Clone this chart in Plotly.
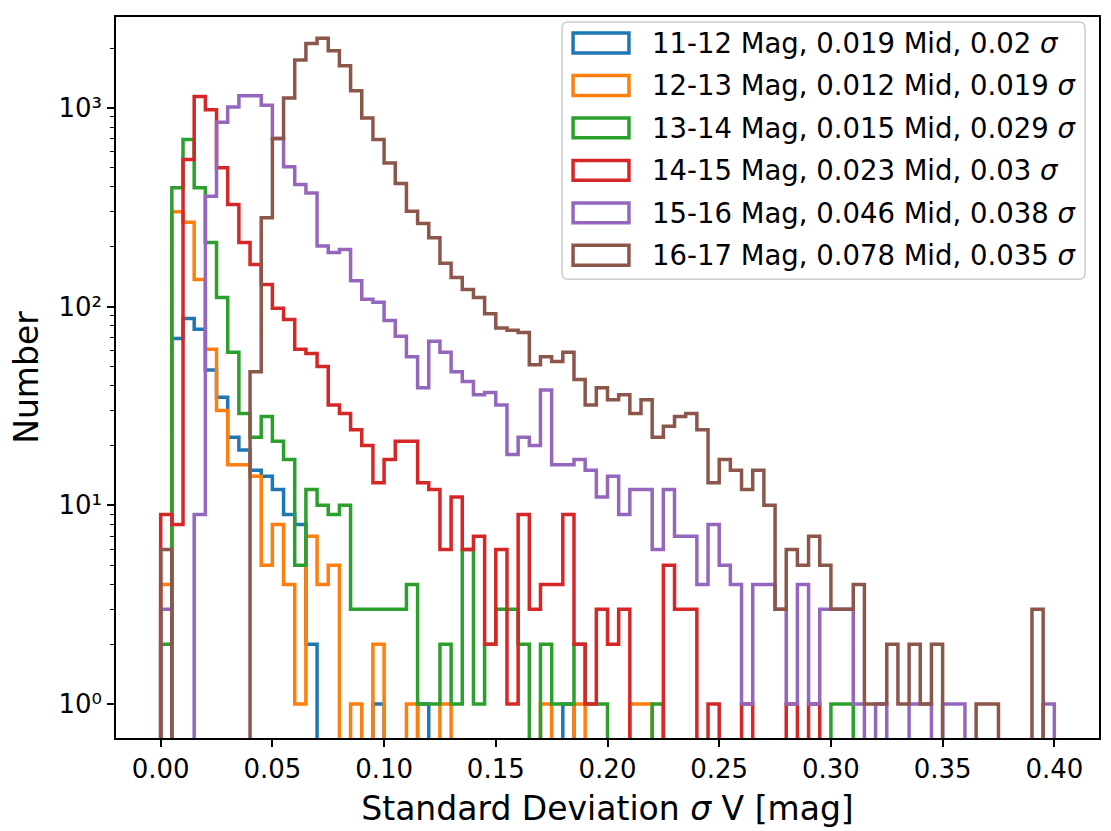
import numpy as np
import plotly.graph_objects as go

# ---------------- data (counts per bin, 80 bins of 0.005 mag from 0 to 0.4) ----------------
bin_edges = np.linspace(0.0, 0.4, 81)

labels = [
    "11-12 Mag, 0.019 Mid, 0.02 <i>σ</i>",
    "12-13 Mag, 0.012 Mid, 0.019 <i>σ</i>",
    "13-14 Mag, 0.015 Mid, 0.029 <i>σ</i>",
    "14-15 Mag, 0.023 Mid, 0.03 <i>σ</i>",
    "15-16 Mag, 0.046 Mid, 0.038 <i>σ</i>",
    "16-17 Mag, 0.078 Mid, 0.035 <i>σ</i>",
]

y_tick_values = [1, 10, 100, 1000]
y_tick_labels = ["10⁰", "10¹", "10²", "10³"]
x_tick_values = [0.0, 0.05, 0.10, 0.15, 0.20, 0.25, 0.30, 0.35, 0.40]
x_tick_labels = ["0.00", "0.05", "0.10", "0.15", "0.20", "0.25", "0.30", "0.35", "0.40"]

mag_11_12 = [0, 69, 87, 77, 48, 35, 22, 19, 15, 14,
             12, 9, 8, 2, 0, 0, 0, 0, 0, 1,
             0, 0, 0, 1, 0, 0, 0, 0, 0, 0,
             0, 0, 0, 0, 0, 0, 1, 0, 0, 0,
             0, 0, 0, 0, 0, 0, 0, 0, 0, 0,
             0, 0, 0, 0, 0, 0, 0, 0, 0, 0,
             0, 0, 0, 0, 0, 0, 0, 0, 0, 0,
             0, 0, 0, 0, 0, 0, 0, 0, 0, 0]

mag_12_13 = [4, 300, 266, 137, 61, 30, 16, 16, 14, 5,
             8, 4, 1, 7, 4, 5, 0, 1, 0, 2,
             0, 0, 1, 0, 0, 1, 0, 0, 0, 0,
             0, 0, 0, 0, 1, 0, 0, 1, 0, 0,
             0, 0, 1, 1, 0, 0, 0, 0, 0, 0,
             0, 0, 0, 0, 0, 0, 0, 0, 0, 0,
             0, 0, 0, 0, 0, 0, 0, 0, 0, 0,
             0, 0, 0, 0, 0, 0, 0, 0, 0, 0]

mag_13_14 = [2, 396, 692, 396, 210, 111, 59, 29, 22, 28,
             21, 17, 5, 12, 10, 9, 10, 3, 3, 3,
             3, 3, 4, 1, 1, 2, 1, 6, 1, 2,
             3, 3, 2, 0, 2, 1, 1, 2, 1, 1,
             0, 0, 0, 0, 1, 0, 0, 0, 0, 0,
             0, 0, 0, 0, 0, 0, 0, 0, 0, 0,
             1, 1, 0, 0, 0, 0, 0, 0, 0, 0,
             0, 0, 0, 0, 0, 0, 0, 0, 0, 0]

mag_14_15 = [9, 8, 549, 1141, 977, 499, 326, 210, 163, 129,
             98, 86, 61, 58, 50, 32, 29, 24, 20, 13,
             17, 21, 21, 13, 12, 6, 11, 6, 7, 2,
             6, 1, 9, 3, 4, 4, 9, 2, 1, 3,
             2, 3, 0, 0, 0, 5, 3, 3, 0, 1,
             0, 0, 1, 0, 0, 0, 1, 0, 1, 0,
             0, 0, 0, 0, 0, 0, 0, 0, 0, 0,
             0, 0, 0, 0, 0, 0, 0, 0, 0, 0]

mag_15_16 = [3, 0, 0, 9, 359, 845, 1010, 1150, 1150, 1030,
             700, 505, 411, 373, 202, 187, 194, 135, 109, 105,
             85, 71, 56, 39, 67, 59, 47, 42, 36, 37,
             32, 18, 22, 20, 38, 16, 16, 17, 15, 11,
             14, 9, 12, 12, 6, 12, 7, 7, 4, 8,
             5, 4, 1, 4, 4, 3, 1, 4, 1, 3,
             3, 3, 1, 0, 1, 0, 0, 1, 1, 0,
             1, 1, 0, 0, 0, 0, 0, 0, 0, 1]

mag_16_17 = [6, 0, 0, 0, 0, 0, 0, 0, 47, 280,
             700, 1120, 1740, 2110, 2240, 1940, 1630, 1220, 890, 692,
             528, 416, 302, 262, 222, 165, 140, 122, 111, 92,
             78, 76, 74, 51, 56, 53, 59, 43, 32, 39,
             34, 36, 29, 34, 22, 25, 28, 29, 24, 13,
             17, 15, 12, 15, 10, 3, 6, 5, 7, 5,
             3, 3, 4, 1, 1, 2, 1, 2, 1, 2,
             0, 0, 0, 1, 1, 0, 0, 0, 3, 0]

series = [mag_11_12, mag_12_13, mag_13_14, mag_14_15, mag_15_16, mag_16_17]
colors = ["#1f77b4", "#ff7f0e", "#2ca02c", "#d62728", "#9467bd", "#8c564b"]

# ---------------- geometry (pixels of the 1111x831 canvas) ----------------
W, H = 1111, 831
L, R, T, B = 116, 1101, 17, 740          # plot-area box
X_RANGE = [-0.02, 0.42]
Y_RANGE = [-0.1706, 3.457]               # log10 units
FLOOR = 1e-2                              # empty bins drop below the axis


def px_x(px):
    return (px - L) / (R - L)


def px_y(py):
    return (B - py) / (B - T)


fig = go.Figure()
for name, counts, color in zip(labels, series, colors):
    c = np.asarray(counts, dtype=float)
    y = np.where(c > 0, c, FLOOR)
    xs = np.concatenate([[bin_edges[0]], bin_edges])
    ys = np.concatenate([[FLOOR], y, [FLOOR]])
    fig.add_trace(go.Scatter(
        x=xs, y=ys, mode="lines", name=name, showlegend=False,
        line=dict(color=color, width=3.5, shape="hv"),
        hoverinfo="skip",
    ))

font_family = "DejaVu Sans"
minor = [m * 10 ** k for k in range(0, 4) for m in range(2, 10)]

fig.update_layout(
    width=W, height=H,
    margin=dict(l=L, r=W - R, t=T, b=H - B, pad=0),
    paper_bgcolor="white", plot_bgcolor="white",
    font=dict(family=font_family, color="black", size=26),
    xaxis=dict(
        range=X_RANGE, showgrid=False, zeroline=False,
        tickvals=x_tick_values, ticktext=x_tick_labels,
        ticks="outside", ticklen=7, tickwidth=1.6, tickcolor="black",
        showline=True, mirror=True, linecolor="black", linewidth=1.6,
        tickfont=dict(size=26),
        title=dict(text="Standard Deviation <i>σ</i> V [mag]", font=dict(size=33), standoff=14),
    ),
    yaxis=dict(
        type="log", range=Y_RANGE, showgrid=False, zeroline=False,
        tickvals=y_tick_values, ticktext=y_tick_labels,
        ticks="outside", ticklen=7, tickwidth=1.6, tickcolor="black",
        showline=True, mirror=True, linecolor="black", linewidth=1.6,
        tickfont=dict(size=26),
        minor=dict(tickvals=minor, ticks="outside", ticklen=4, tickwidth=1.2,
                   tickcolor="black", showgrid=False),
        title=dict(text="Number", font=dict(size=33), standoff=10),
    ),
)

# ---------------- legend drawn like matplotlib's (outlined patches) ----------------
bx0, bx1, by0, by1 = 563, 1087, 22, 280
r = 6
path = (f"M {px_x(bx0 + r)} {px_y(by0)} L {px_x(bx1 - r)} {px_y(by0)} "
        f"Q {px_x(bx1)} {px_y(by0)} {px_x(bx1)} {px_y(by0 + r)} "
        f"L {px_x(bx1)} {px_y(by1 - r)} Q {px_x(bx1)} {px_y(by1)} {px_x(bx1 - r)} {px_y(by1)} "
        f"L {px_x(bx0 + r)} {px_y(by1)} Q {px_x(bx0)} {px_y(by1)} {px_x(bx0)} {px_y(by1 - r)} "
        f"L {px_x(bx0)} {px_y(by0 + r)} Q {px_x(bx0)} {px_y(by0)} {px_x(bx0 + r)} {px_y(by0)} Z")
fig.add_shape(type="path", path=path, xref="paper", yref="paper",
              fillcolor="rgba(255,255,255,0.8)", line=dict(color="#cccccc", width=1.5), layer="above")

row0, step = 43, 42.6
for i, (name, color) in enumerate(zip(labels, colors)):
    yc = row0 + step * i
    fig.add_shape(type="rect", xref="paper", yref="paper",
                  x0=px_x(574), x1=px_x(630), y0=px_y(yc - 10), y1=px_y(yc + 10),
                  line=dict(color=color, width=3.5), fillcolor="rgba(0,0,0,0)", layer="above")
    fig.add_annotation(x=px_x(651), y=px_y(yc), xref="paper", yref="paper",
                       text=name, showarrow=False, xanchor="left", yanchor="middle",
                       font=dict(size=27.5, family=font_family, color="black"))

fig.write_html("out.html")
